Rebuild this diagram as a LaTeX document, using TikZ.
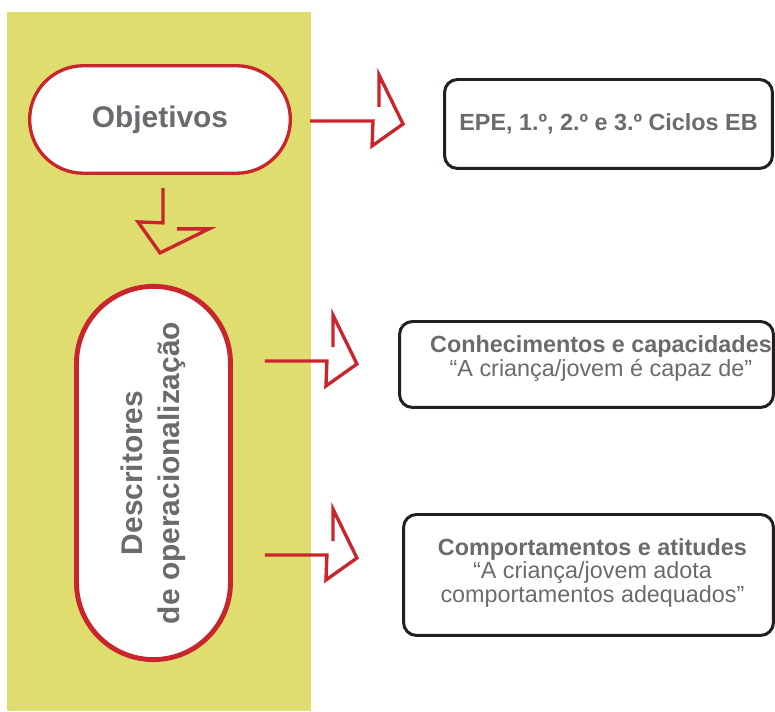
\documentclass[tikz,border=0pt]{standalone}
\usepackage{fontspec}
\setmainfont{Liberation Sans}
\usetikzlibrary{shapes.misc, calc}
\definecolor{pale-olive}{RGB}{223,221,111}
\definecolor{flag-red}{RGB}{201,37,44}
\definecolor{text-gray}{RGB}{106,107,110}
\definecolor{frame-black}{RGB}{35,31,32}

\begin{document}
\begin{tikzpicture}[x=0.02cm, y=0.02cm,
        pillbox/.style={rounded rectangle, draw=flag-red, fill=white, text=text-gray,
            font={\fontsize{17}{21}\selectfont\bfseries}, align=center},
        infobox/.style={draw=frame-black, line width=1.7pt, rounded corners=0.26cm, fill=white},
        boxtext/.style={text=text-gray, font={\fontsize{13.3}{12.3}\selectfont}, align=center, inner sep=0pt},
        arrowline/.style={draw=flag-red, line width=1.9pt},
        pics/hollowarrow/.style={code={
            \draw [arrowline] (0,0) -- (#1-30,0) -- (#1-31,-25) -- (#1,-3) -- (#1-24,46) -- (#1-24,14);
        }}]
        \useasboundingbox (0,0) rectangle (775,712);
        % Yellow band
        \fill [pale-olive] (7,1) rectangle (311,700);
        % Objetivos pill
        \node [pillbox, line width=1.9pt, minimum width=5.45cm, minimum height=2.15cm] (objetivos) at (160,592.5) {Objetivos};
        % Descritores pill (turned 90, so its south is the right side)
        \node [pillbox, line width=2.8pt, rotate=90, minimum width=7.7cm, minimum height=3.08cm] (descr) at (153.5,239) {Descritores\\de operacionalização};
        % EPE box
        \node [infobox, minimum width=6.56cm, minimum height=1.78cm] (epe) at (608.5,588) {};
        \node [boxtext, font={\fontsize{13.3}{12.3}\selectfont\bfseries}] (epetxt) at (epe.center) {EPE, 1.º, 2.º e 3.º Ciclos EB};
        % Conhecimentos box
        \node [infobox, minimum width=7.48cm, minimum height=1.72cm] (conhec) at (586.5,347.5) {};
        \node [boxtext] (conhectxt) at ($(conhec.center)+(14.5,6)$) {\textbf{Conhecimentos e capacidades}\\“A criança/jovem é capaz de”};
        % Comportamentos box
        \node [infobox, minimum width=7.4cm, minimum height=2.42cm] (comport) at (588.5,137) {};
        \node [boxtext] (comporttxt) at ($(comport.center)+(4,2)$) {\textbf{Comportamentos e atitudes}\\“A criança/jovem adota\\comportamentos adequados”};
        % Objetivos to EPE arrow
        \coordinate (a1) at ($(objetivos.east)+(18,-1.5)$);
        \pic at (a1) {hollowarrow=93};
        % Objetivos to Descritores arrow
        \coordinate (d0) at ($(objetivos.south)+(3,-13)$);
        \pic [rotate=-90] at (d0) {hollowarrow=65};
        % Descritores to Conhecimentos arrow
        \coordinate (a2) at ($(descr.south |- conhec.north)+(32,-41)$);
        \pic at (a2) {hollowarrow=92};
        % Descritores to Comportamentos arrow
        \coordinate (a3) at ($(descr.south |- comport.north)+(32,-42)$);
        \pic at (a3) {hollowarrow=92};
    \end{tikzpicture}
\end{document}
